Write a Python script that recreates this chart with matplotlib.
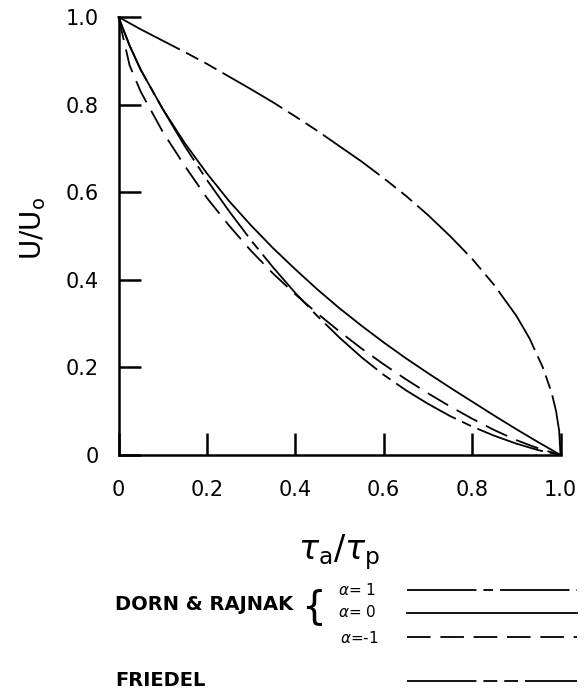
import matplotlib.pyplot as plt
from matplotlib.lines import Line2D

plt.rcParams['lines.scale_dashes'] = False
plt.rcParams['font.family'] = 'DejaVu Sans'

# Dorn & Rajnak curves
tau_dr = [0, 0.025, 0.05, 0.1, 0.15, 0.2, 0.25, 0.3, 0.35, 0.4, 0.45,
          0.5, 0.55, 0.6, 0.65, 0.7, 0.75, 0.8, 0.85, 0.9, 0.95, 1.0]
u_alpha_p1 = [1.0, 0.935, 0.88, 0.79, 0.705, 0.628, 0.557, 0.49, 0.428, 0.37, 0.317,
              0.268, 0.223, 0.183, 0.148, 0.117, 0.089, 0.065, 0.044, 0.026, 0.011, 0.0]
u_alpha_0 = [1.0, 0.935, 0.88, 0.79, 0.712, 0.643, 0.58, 0.524, 0.472, 0.424, 0.378,
             0.335, 0.295, 0.257, 0.221, 0.187, 0.154, 0.122, 0.09, 0.059, 0.029, 0.0]
u_alpha_m1 = [1.0, 0.89, 0.83, 0.738, 0.66, 0.587, 0.524, 0.466, 0.414, 0.367, 0.323,
              0.282, 0.243, 0.207, 0.173, 0.141, 0.111, 0.083, 0.057, 0.034, 0.015, 0.0]

# Friedel curve
tau_fr = [0, 0.05, 0.1, 0.15, 0.2, 0.25, 0.3, 0.35, 0.4, 0.45, 0.5, 0.55, 0.6,
          0.65, 0.7, 0.75, 0.8, 0.85, 0.9, 0.93, 0.96, 0.98, 0.99, 0.997, 1.0]
u_fr = [1.0, 0.972, 0.946, 0.92, 0.893, 0.864, 0.835, 0.805, 0.773, 0.74, 0.705,
        0.67, 0.632, 0.592, 0.548, 0.5, 0.448, 0.388, 0.318, 0.266, 0.2, 0.142,
        0.1, 0.055, 0.0]

ticks = [0, 0.2, 0.4, 0.6, 0.8, 1.0]
tick_labels = ['0', '0.2', '0.4', '0.6', '0.8', '1.0']

# line styles (in points)
style_p1 = dict(ls=(0, (50, 5, 7, 5)))
style_0 = dict(ls='-')
style_m1 = dict(ls=(0, (17, 7)))
style_fr = dict(ls=(0, (50, 5, 10, 5, 10, 5)))
LW = 1.3

W, H = 584, 691
fig = plt.figure(figsize=(W / 100, H / 100), dpi=100, facecolor='white')


def fx(px):
    return px / W


def fy(py):
    return 1 - py / H


ax = fig.add_axes([fx(118.5), fy(455), (560.5 - 118.5) / W, (455 - 17) / H])
ax.set_xlim(0, 1)
ax.set_ylim(0, 1)

for u, st in [(u_alpha_p1, style_p1), (u_alpha_0, style_0), (u_alpha_m1, style_m1)]:
    ax.plot(tau_dr, u, color='black', lw=LW, clip_on=False, **st)
ax.plot(tau_fr, u_fr, color='black', lw=LW, clip_on=False, **style_fr)

for side in ['top', 'right']:
    ax.spines[side].set_visible(False)
for side in ['left', 'bottom']:
    ax.spines[side].set_linewidth(1.8)

ax.set_xticks(ticks)
ax.set_xticklabels(tick_labels)
ax.set_yticks(ticks)
ax.set_yticklabels(tick_labels)
ax.tick_params(axis='x', direction='in', length=16, width=1.8, pad=18, labelsize=15)
ax.tick_params(axis='y', direction='in', length=16, width=1.8, pad=14, labelsize=15)

fig.text(fx(33), fy(228), r'U/U$_\mathrm{o}$', rotation=90, fontsize=20,
         ha='center', va='center')
fig.text(fx(339), fy(552), r'$\tau_\mathrm{a}/\tau_\mathrm{p}$', fontsize=24,
         ha='center', va='center')

# legend block
fig.text(fx(115), fy(605), 'DORN & RAJNAK', fontsize=14, fontweight='bold',
         ha='left', va='center')
fig.text(fx(313), fy(607), '{', fontsize=28, ha='center', va='center')
fig.text(fx(338), fy(590), r'$\alpha$= 1', fontsize=11, ha='left', va='center')
fig.text(fx(338), fy(612), r'$\alpha$= 0', fontsize=11, ha='left', va='center')
fig.text(fx(340), fy(638), r'$\alpha$=-1', fontsize=11, ha='left', va='center')
fig.text(fx(115), fy(681), 'FRIEDEL', fontsize=14, fontweight='bold',
         ha='left', va='center')

for py, st in [(590, style_p1), (612.5, style_0), (636.5, style_m1), (681, style_fr)]:
    fig.add_artist(Line2D([fx(407), fx(577)], [fy(py), fy(py)], color='black',
                          lw=LW, transform=fig.transFigure, **st))

fig.savefig('out.png', dpi=100, facecolor='white')
